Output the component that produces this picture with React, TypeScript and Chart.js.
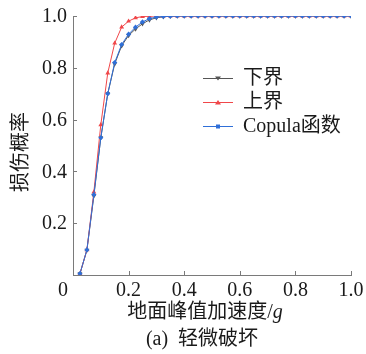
import React, { useEffect, useRef } from "react";
import { Chart, registerables } from "chart.js";

Chart.register(...registerables);

const pga = [
  0.025, 0.05, 0.075, 0.1, 0.125, 0.15, 0.175, 0.2, 0.225, 0.25,
  0.275, 0.3, 0.325, 0.35, 0.375, 0.4, 0.425, 0.45, 0.475, 0.5,
  0.525, 0.55, 0.575, 0.6, 0.625, 0.65, 0.675, 0.7, 0.725, 0.75,
  0.775, 0.8, 0.825, 0.85, 0.875, 0.9, 0.925, 0.95, 0.975, 1.0,
];

const lowerBound = [
  0.005, 0.096, 0.305, 0.53, 0.70, 0.815, 0.885, 0.925, 0.95, 0.97,
  0.985, 0.993, 0.997, 0.999, 1, 1, 1, 1, 1, 1,
  1, 1, 1, 1, 1, 1, 1, 1, 1, 1,
  1, 1, 1, 1, 1, 1, 1, 1, 1, 1,
];

const upperBound = [
  0.005, 0.097, 0.32, 0.58, 0.78, 0.895, 0.957, 0.98, 0.993, 0.998,
  0.999, 1, 1, 1, 1, 1, 1, 1, 1, 1,
  1, 1, 1, 1, 1, 1, 1, 1, 1, 1,
  1, 1, 1, 1, 1, 1, 1, 1, 1, 1,
];

const copula = [
  0.005, 0.097, 0.31, 0.53, 0.70, 0.82, 0.89, 0.93, 0.957, 0.977,
  0.99, 0.996, 0.998, 0.999, 1, 1, 1, 1, 1, 1,
  1, 1, 1, 1, 1, 1, 1, 1, 1, 1,
  1, 1, 1, 1, 1, 1, 1, 1, 1, 1,
];

const xTickLabels = ["0", "0.2", "0.4", "0.6", "0.8", "1.0"];
const yTickLabels = ["", "0.2", "0.4", "0.6", "0.8", "1.0"];
const seriesNames = ["下界", "上界", "Copula函数"];
const seriesColors = ["#555555", "#f0474a", "#2f6fd8"];
const xTitle = "地面峰值加速度/";
const xTitleItalic = "g";
const yTitle = "损伤概率";
const caption = "(a)  轻微破坏";

const SERIF = "'Liberation Serif', 'Times New Roman', 'Noto Sans CJK SC', serif";
const AXIS = "#7a7a7a";
const TEXT = "#1a1a1a";

const decorPlugin = {
  id: "decor",
  afterDraw(chart: any) {
    const ctx = chart.ctx;
    const xs = chart.scales.x;
    const ys = chart.scales.y;
    const area = chart.chartArea;
    ctx.save();
    // inward ticks
    ctx.strokeStyle = AXIS;
    ctx.lineWidth = 1;
    ctx.beginPath();
    xs.ticks.forEach((t: any) => {
      if (t.value === 0) return;
      const px = Math.round(xs.getPixelForValue(t.value)) + 0.5;
      ctx.moveTo(px, area.bottom);
      ctx.lineTo(px, area.bottom - 4);
    });
    ys.ticks.forEach((t: any) => {
      if (t.value === 0) return;
      const py = Math.round(ys.getPixelForValue(t.value)) + 0.5;
      ctx.moveTo(area.left, py);
      ctx.lineTo(area.left + 4, py);
    });
    ctx.stroke();

    ctx.fillStyle = TEXT;
    ctx.font = `20px ${SERIF}`;
    ctx.textBaseline = "middle";
    // x tick labels
    ctx.textAlign = "center";
    xs.ticks.forEach((t: any, i: number) => {
      const lbl = xTickLabels[i] ?? "";
      const px = xs.getPixelForValue(t.value) + (t.value === 0 ? -10 : 0);
      ctx.fillText(lbl, px, area.bottom + 16);
    });
    // y tick labels
    ctx.textAlign = "right";
    ys.ticks.forEach((t: any, i: number) => {
      const lbl = yTickLabels[i] ?? "";
      if (!lbl) return;
      ctx.fillText(lbl, area.left - 6, ys.getPixelForValue(t.value) + 1);
    });

    // x title
    ctx.font = `20px ${SERIF}`;
    ctx.textAlign = "left";
    const w1 = ctx.measureText(xTitle).width;
    ctx.font = `italic 20px ${SERIF}`;
    const w2 = ctx.measureText(xTitleItalic).width;
    const cx = 205;
    const startX = cx - (w1 + w2) / 2;
    ctx.font = `20px ${SERIF}`;
    ctx.fillText(xTitle, startX, area.bottom + 38);
    ctx.font = `italic 20px ${SERIF}`;
    ctx.fillText(xTitleItalic, startX + w1, area.bottom + 38);

    // caption
    ctx.font = `20px ${SERIF}`;
    ctx.textAlign = "center";
    ctx.fillText(caption, 202, area.bottom + 65);

    // y title
    ctx.save();
    ctx.translate(22, 152);
    ctx.rotate(-Math.PI / 2);
    ctx.font = `20px ${SERIF}`;
    ctx.textAlign = "center";
    ctx.fillText(yTitle, 0, 0);
    ctx.restore();

    // legend
    [0, 1, 2].forEach((i) => {
      const ly = 78 + i * 24;
      const color = seriesColors[i];
      ctx.strokeStyle = color;
      ctx.lineWidth = 1;
      ctx.beginPath();
      ctx.moveTo(203, ly + 0.5);
      ctx.lineTo(233, ly + 0.5);
      ctx.stroke();
      ctx.fillStyle = color;
      ctx.beginPath();
      if (i === 0) {
        ctx.moveTo(215, ly - 1.5);
        ctx.lineTo(221, ly - 1.5);
        ctx.lineTo(218, ly + 2.5);
      } else if (i === 1) {
        ctx.moveTo(215, ly + 2.5);
        ctx.lineTo(221, ly + 2.5);
        ctx.lineTo(218, ly - 2);
      } else {
        ctx.rect(216, ly - 1.5, 4, 4);
      }
      ctx.closePath();
      ctx.fill();
      ctx.fillStyle = TEXT;
      ctx.font = `20px ${SERIF}`;
      ctx.textAlign = "left";
      ctx.textBaseline = "middle";
      ctx.fillText(seriesNames[i], 243, ly + 1);
    });
    ctx.restore();
  },
};

export default function App() {
  const ref = useRef<HTMLCanvasElement | null>(null);
  useEffect(() => {
    document.body.style.margin = "0";
    const canvas = ref.current!;
    const mk = (vals: number[]) => pga.map((x, i) => ({ x, y: vals[i] }));
    const chart = new Chart(canvas, {
      type: "line",
      data: {
        datasets: [
          {
            label: seriesNames[2],
            data: mk(copula),
            borderColor: seriesColors[2],
            backgroundColor: seriesColors[2],
            borderWidth: 1,
            pointStyle: "rectRot",
            pointRadius: 2.6,
            pointBorderWidth: 0,
            order: 0,
          },
          {
            label: seriesNames[1],
            data: mk(upperBound),
            borderColor: seriesColors[1],
            backgroundColor: seriesColors[1],
            borderWidth: 1,
            pointStyle: "triangle",
            pointRadius: 2.8,
            pointBorderWidth: 0,
            order: 1,
          },
          {
            label: seriesNames[0],
            data: mk(lowerBound),
            borderColor: seriesColors[0],
            backgroundColor: seriesColors[0],
            borderWidth: 1,
            pointStyle: "triangle",
            rotation: 180,
            pointRadius: 2.8,
            pointBorderWidth: 0,
            order: 2,
          },
        ],
      },
      options: {
        animation: false,
        responsive: false,
        devicePixelRatio: 1,
        layout: { padding: { top: 16, right: 15, left: 0, bottom: 0 } },
        plugins: { legend: { display: false }, tooltip: { enabled: false } },
        scales: {
          x: {
            type: "linear",
            min: 0,
            max: 1,
            afterFit: (s: any) => {
              s.height = 79;
            },
            grid: { display: false },
            border: { display: true, color: AXIS, width: 1 },
            ticks: { stepSize: 0.2, display: false },
          },
          y: {
            type: "linear",
            min: 0,
            max: 1,
            afterFit: (s: any) => {
              s.width = 73;
            },
            grid: { display: false },
            border: { display: true, color: AXIS, width: 1 },
            ticks: { stepSize: 0.2, display: false },
          },
        },
      },
      plugins: [decorPlugin],
    });
    return () => chart.destroy();
  }, []);
  return (
    <div style={{ width: 366, height: 354, background: "#fff" }}>
      <canvas ref={ref} width={366} height={354} style={{ width: 366, height: 354, display: "block" }} />
    </div>
  );
}
